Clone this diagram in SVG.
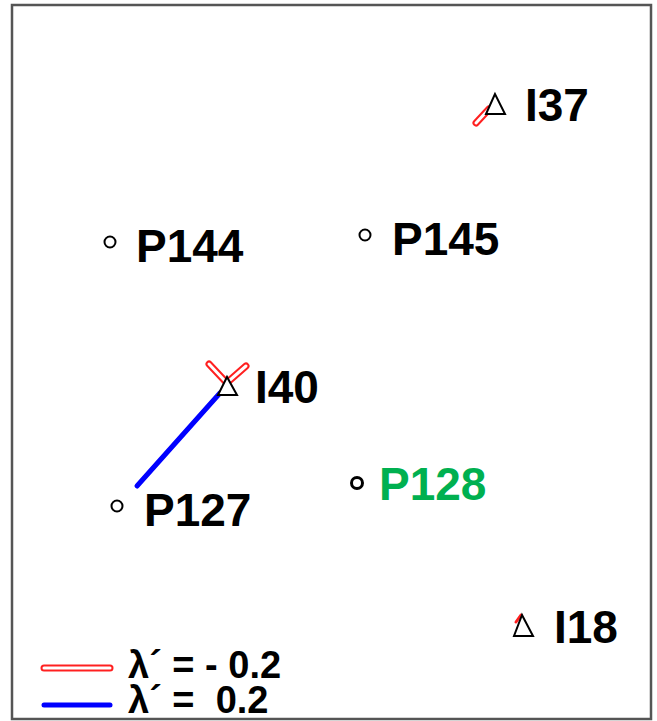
<svg xmlns="http://www.w3.org/2000/svg" width="657" height="721" viewBox="0 0 657 721">
<style>
.lbl{font-family:"Liberation Sans",Arial,sans-serif;font-weight:bold;font-size:46px;fill:#000}
.leg{font-family:"Liberation Sans",Arial,sans-serif;font-weight:bold;font-size:38px;fill:#000;white-space:pre}
.pt{fill:#fff;stroke:#000;stroke-width:2}
.tri{fill:#fff;stroke:#000;stroke-width:2;stroke-linejoin:miter}
.neg-o{stroke:#ff2020;stroke-width:7;stroke-linecap:round;fill:none}
.neg-i{stroke:#fff;stroke-width:3;stroke-linecap:round;fill:none}
.pos{stroke:#0000ff;stroke-width:5;stroke-linecap:round;fill:none}
</style>
<rect x="12" y="5" width="639" height="714" fill="#fff" stroke="#555" stroke-width="2.5"/>
<g id="connectors">
  <line class="pos" x1="220" y1="393" x2="137" y2="486"/>
  <g id="I37-neg"><line class="neg-o" x1="476" y1="123" x2="489" y2="109"/><line class="neg-i" x1="476" y1="123" x2="489" y2="109"/></g>
  <g id="I40-neg">
    <line class="neg-o" x1="209" y1="364" x2="225" y2="381"/><line class="neg-i" x1="209" y1="364" x2="225" y2="381"/>
    <line class="neg-o" x1="246" y1="366" x2="230" y2="380"/><line class="neg-i" x1="246" y1="366" x2="230" y2="380"/>
  </g>
  <g id="I18-neg"><line stroke="#ff2020" stroke-width="3" stroke-linecap="round" x1="516" y1="622" x2="521" y2="615"/></g>
</g>
<g id="I37"><polygon class="tri" points="495,94 486,114 505,114"/><text class="lbl" x="525" y="121">I37</text></g>
<g id="P144"><circle class="pt" cx="110" cy="242" r="5.5"/><text class="lbl" x="136" y="262">P144</text></g>
<g id="P145"><circle class="pt" cx="365" cy="235" r="5.5"/><text class="lbl" x="392" y="255">P145</text></g>
<g id="I40"><polygon class="tri" points="227,377 218,395 237,395"/><text class="lbl" x="255" y="403">I40</text></g>
<g id="P128"><circle class="pt" cx="357" cy="483" r="5.5" style="stroke-width:3"/><text class="lbl" x="379" y="500" style="fill:#00b050">P128</text></g>
<g id="P127"><circle class="pt" cx="117" cy="506" r="5.5"/><text class="lbl" x="144" y="526">P127</text></g>
<g id="I18"><polygon class="tri" points="522,615 514,636 533,636"/><text class="lbl" x="554" y="643">I18</text></g>
<g id="legend">
  <line class="neg-o" x1="44" y1="668" x2="110" y2="668" stroke-width="8"/>
  <line class="neg-i" x1="44" y1="668" x2="110" y2="668"/>
  <line class="pos" x1="44" y1="705" x2="110" y2="705" stroke-width="7"/>
  <text class="leg" x="128" y="678">λ´ = - 0.2</text>
  <text class="leg" x="128" y="713">λ´ =  0.2</text>
</g>
</svg>
